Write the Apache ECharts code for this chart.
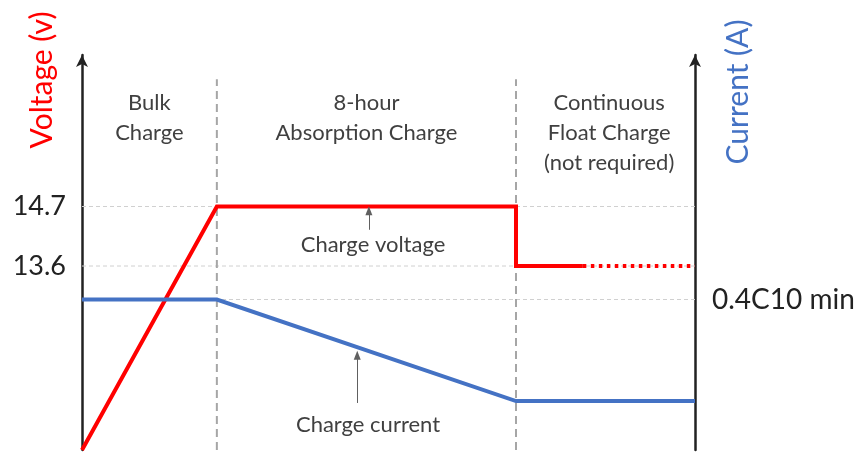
<!DOCTYPE html>
<html><head><meta charset="utf-8">
<script src="https://cdn.jsdelivr.net/npm/echarts@6/dist/echarts.min.js"></script>
<style>html,body{margin:0;padding:0;background:#fff}#c{width:862px;height:453px}</style>
</head><body><div id="c"></div>
<script>
// Time axis positions (arbitrary units, 0-100)
var phaseEnds = [22.0, 70.8];           // end of bulk, end of absorption
var timeMax = 100;
// Voltage (V)
var voltageX = [0, 22.0, 70.8, 70.8, 81.7];
var voltageY = [10.2, 14.7, 14.7, 13.6, 13.6];
var voltageDottedX = [81.7, 100];
var voltageDottedY = [13.6, 13.6];
var voltageTicks = [14.7, 13.6];
// Current (relative to C10)
var currentX = [0, 22.0, 70.8, 100];
var currentY = [0.4, 0.4, 0.13, 0.13];
var currentTicks = [0.4];
var currentTickLabel = '0.4C10 min';
// Phase labels
var phaseLabels = ['Bulk\nCharge', '8-hour\nAbsorption Charge', 'Continuous\nFloat Charge\n(not required)'];
var phaseCentersX = [11.0, 46.4, 86.0];

function pairs(xs, ys){ return xs.map(function(x,i){return [x, ys[i]];}); }

var chart = echarts.init(document.getElementById('c'));
var FONT = 'Lato, "Open Sans", sans-serif';
var txtCol = '#404040';
var gridStyle = {color: '#d0d0d0', type: [4,3], width: 1};
var phaseStyle = {color: '#a6a6a6', type: [8,5], width: 2};

var series = [];
voltageTicks.forEach(function(v){
  series.push({type: 'line', yAxisIndex: 0, z: 1, silent: true, symbol: 'none', data: [[0, v], [timeMax, v]], lineStyle: gridStyle});
});
currentTicks.forEach(function(v){
  series.push({type: 'line', yAxisIndex: 1, z: 1, silent: true, symbol: 'none', data: [[0, v], [timeMax, v]], lineStyle: gridStyle});
});
phaseEnds.forEach(function(x){
  series.push({type: 'line', yAxisIndex: 0, z: 1, silent: true, symbol: 'none', data: [[x, 10.2], [x, 17.05]], lineStyle: phaseStyle});
});
series.push(
  {name: 'Charge voltage', type: 'line', yAxisIndex: 0, z: 3, symbol: 'none',
   data: pairs(voltageX, voltageY), lineStyle: {color: '#ff0000', width: 4, cap: 'butt', join: 'miter'},
   markLine: {silent: true, symbol: ['none', 'triangle'], symbolSize: [7, 9], label: {show: false},
     data: [[{coord: [46.8, 14.27], lineStyle: {color: '#606060', width: 1, type: 'solid'}}, {coord: [46.8, 14.62]}]]}},
  {type: 'line', yAxisIndex: 0, z: 3, symbol: 'none',
   data: pairs(voltageDottedX, voltageDottedY), lineStyle: {color: '#ff0000', width: 4, type: [3.5, 4.5], cap: 'butt'}},
  {name: 'Charge current', type: 'line', yAxisIndex: 1, z: 3, symbol: 'none',
   data: pairs(currentX, currentY), lineStyle: {color: '#4472c4', width: 4, join: 'miter'},
   markLine: {silent: true, symbol: ['none', 'triangle'], symbolSize: [7, 9], label: {show: false},
     data: [[{coord: [44.9, 0.125], lineStyle: {color: '#606060', width: 1, type: 'solid'}}, {coord: [44.9, 0.252]}]]}}
);

var option = {
  animation: false,
  grid: {left: 82, right: 167, top: 55, bottom: 3},
  xAxis: {type: 'value', min: 0, max: timeMax, show: false},
  yAxis: [
    {type: 'value', min: 10.2, max: 17.5, position: 'left',
     axisLine: {show: true, symbol: ['none', 'arrow'], symbolSize: [9, 12], lineStyle: {color: '#222', width: 2.5}},
     axisTick: {show: false}, splitLine: {show: false},
     axisLabel: {customValues: voltageTicks, fontSize: 27, color: '#222', margin: 16, fontFamily: FONT, formatter: function(v){return v.toFixed(1);}}},
    {type: 'value', min: 0, max: 1.05, position: 'right',
     axisLine: {show: true, symbol: ['none', 'arrow'], symbolSize: [9, 12], lineStyle: {color: '#222', width: 2.5}},
     axisTick: {show: false}, splitLine: {show: false},
     axisLabel: {customValues: currentTicks, fontSize: 28, color: '#222', margin: 17, fontFamily: FONT, formatter: function(){return currentTickLabel;}}}
  ],
  series: series,
  graphic: [
    {type: 'text', x: 42, y: 80, rotation: Math.PI/2, style: {text: 'Voltage (v)', fill: '#ff0000', font: '30px ' + FONT, align: 'center', verticalAlign: 'middle'}},
    {type: 'text', x: 738, y: 92, rotation: Math.PI/2, style: {text: 'Current (A)', fill: '#4472c4', font: '30px ' + FONT, align: 'center', verticalAlign: 'middle'}},
    {type: 'text', x: 373, y: 245, style: {text: 'Charge voltage', fill: txtCol, font: '22px ' + FONT, align: 'center', verticalAlign: 'middle'}},
    {type: 'text', x: 368, y: 425, style: {text: 'Charge current', fill: txtCol, font: '22px ' + FONT, align: 'center', verticalAlign: 'middle'}}
  ]
};
chart.setOption(option);

// place phase labels using the chart's own x scale
var gr = option.graphic.slice();
phaseLabels.forEach(function(t, i){
  var px = chart.convertToPixel({xAxisIndex: 0}, phaseCentersX[i]);
  gr.push({type: 'text', x: px, y: 88, style: {text: t, fill: txtCol, font: '22px ' + FONT, align: 'center', verticalAlign: 'top', lineHeight: 30}});
});
chart.setOption({graphic: gr});
</script>
</body></html>
